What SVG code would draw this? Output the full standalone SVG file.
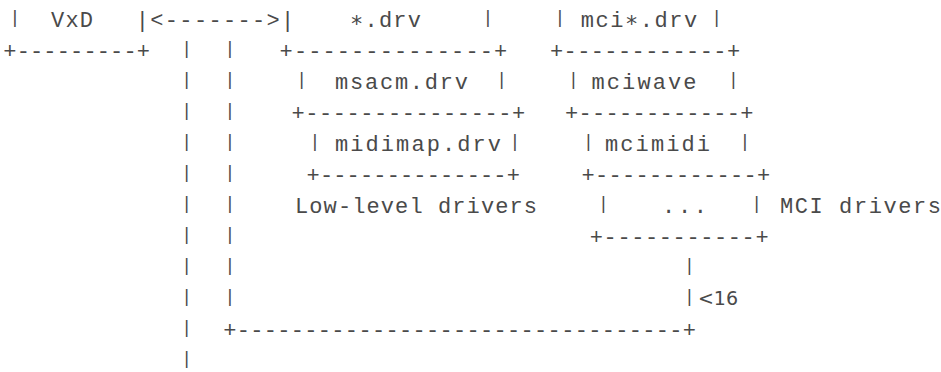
<svg xmlns="http://www.w3.org/2000/svg" width="941" height="372" viewBox="0 0 941 372">
<style>
.m{font-family:"Liberation Mono","DejaVu Sans Mono",monospace;font-size:22px;fill:#4a4a4a}
.b{font-family:"Liberation Mono","DejaVu Sans Mono",monospace;font-size:18px;fill:#4a4a4a;text-anchor:middle}
.s{font-family:"DejaVu Sans",sans-serif;font-size:19px;fill:#4a4a4a}
</style>
<rect width="941" height="372" fill="#fff"/>
<g id="vxd">
<text class="b" x="15" y="23.4">|</text>
<text class="m" x="51" y="26.5" textLength="42" lengthAdjust="spacing">VxD</text>
<text class="m" x="3.3" y="57.5" textLength="146.7" lengthAdjust="spacing">+---------+</text>
</g>
<g id="drv">
<text class="m" x="350" y="26.5" textLength="71" lengthAdjust="spacing">∗.drv</text>
<text class="b" x="488" y="23.4">|</text>
<text class="m" x="279.6" y="57.5" textLength="227.6" lengthAdjust="spacing">+--------------+</text>
</g>
<g id="msacm">
<text class="b" x="301.7" y="85.4">|</text>
<text class="m" x="335" y="88.5" textLength="133" lengthAdjust="spacing">msacm.drv</text>
<text class="b" x="501.7" y="85.4">|</text>
<text class="m" x="291.4" y="119.5" textLength="233.8" lengthAdjust="spacing">+---------------+</text>
</g>
<g id="midimap">
<text class="b" x="315" y="147.4">|</text>
<text class="m" x="335" y="150.5" textLength="166" lengthAdjust="spacing">midimap.drv</text>
<text class="b" x="515" y="147.4">|</text>
<text class="m" x="306.6" y="181.5" textLength="213.3" lengthAdjust="spacing">+--------------+</text>
</g>
<g id="lowlevel">
<text class="m" x="295" y="212.5" textLength="242" lengthAdjust="spacing">Low-level drivers</text>
</g>
<g id="mcidrv">
<text class="b" x="560" y="23.4">|</text>
<text class="m" x="580.7" y="26.5" textLength="116.6" lengthAdjust="spacing">mci∗.drv</text>
<text class="b" x="716.7" y="23.4">|</text>
<text class="m" x="549.9" y="57.5" textLength="190.2" lengthAdjust="spacing">+------------+</text>
</g>
<g id="mciwave">
<text class="b" x="573.3" y="85.4">|</text>
<text class="m" x="591.5" y="88.5" textLength="105" lengthAdjust="spacing">mciwave</text>
<text class="b" x="733.3" y="85.4">|</text>
<text class="m" x="565" y="119.5" textLength="188.5" lengthAdjust="spacing">+------------+</text>
</g>
<g id="mcimidi">
<text class="b" x="588.3" y="147.4">|</text>
<text class="m" x="605" y="150.5" textLength="105" lengthAdjust="spacing">mcimidi</text>
<text class="b" x="745" y="147.4">|</text>
<text class="m" x="581.6" y="181.5" textLength="188.5" lengthAdjust="spacing">+------------+</text>
</g>
<g id="mcietc">
<text class="b" x="603.3" y="209.4">|</text>
<text class="m" x="662" y="212.5" textLength="45" lengthAdjust="spacing">...</text>
<text class="b" x="756.7" y="209.4">|</text>
<text class="m" x="589.8" y="243.5" textLength="178.8" lengthAdjust="spacing">+-----------+</text>
</g>
<g id="mcilabel">
<text class="m" x="780" y="212.5" textLength="161" lengthAdjust="spacing">MCI drivers</text>
</g>
<g id="connectors">
<text class="m" x="135.8" y="26.5" textLength="158.4" lengthAdjust="spacing">|&lt;-------&gt;|</text>
<g class="b">
<text x="186.7" y="54.4">|</text><text x="230" y="54.4">|</text>
<text x="186.7" y="85.4">|</text><text x="230" y="85.4">|</text>
<text x="186.7" y="116.4">|</text><text x="230" y="116.4">|</text>
<text x="186.7" y="147.4">|</text><text x="230" y="147.4">|</text>
<text x="186.7" y="178.4">|</text><text x="230" y="178.4">|</text>
<text x="186.7" y="209.4">|</text><text x="230" y="209.4">|</text>
<text x="186.7" y="240.4">|</text><text x="230" y="240.4">|</text>
<text x="186.7" y="271.4">|</text><text x="230" y="271.4">|</text>
<text x="186.7" y="302.4">|</text><text x="230" y="302.4">|</text>
<text x="186.7" y="333.4">|</text>
<text x="186.7" y="364.4">|</text>
<text x="689.3" y="271.4">|</text>
<text x="689.3" y="302.4">|</text>
</g>
<text class="s" x="698" y="305" textLength="40" lengthAdjust="spacing">&lt;16</text>
<text class="m" x="223.2" y="336.5" textLength="472.8" lengthAdjust="spacing">+---------------------------------+</text>
</g>
</svg>
